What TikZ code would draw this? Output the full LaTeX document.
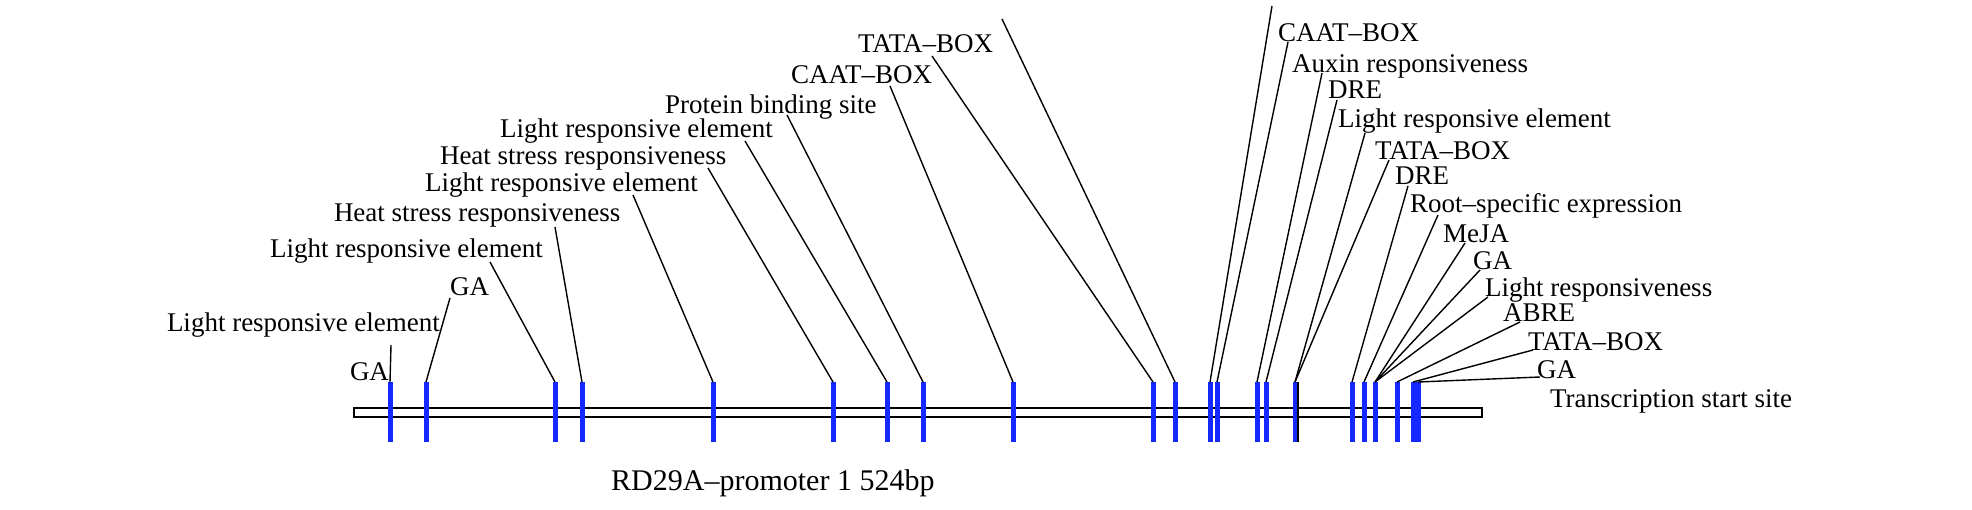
\documentclass[tikz,border=0pt]{standalone}
\usepackage{fontspec}
\setmainfont{Liberation Serif}
\definecolor{barblue}{RGB}{20,40,255}
\tikzset{
  lbl/.style={anchor=base west, inner sep=0pt, outer sep=0pt, font=\fontsize{27}{30}\selectfont},
  caption/.style={anchor=base west, inner sep=0pt, font=\fontsize{30}{33}\selectfont},
  bluebar/.style={fill=barblue, draw=none, minimum width=5pt, minimum height=60pt, inner sep=0pt, outer sep=0pt},
  conn/.style={line width=1.4pt, black},
  track/.style={draw=black, fill=white, line width=2pt},
}
\begin{document}
\begin{tikzpicture}[x=1pt, y=-1pt]
\useasboundingbox (0,0) rectangle (1972,510);
\fill[white] (0,0) rectangle (1972,510);

% promoter track
\node[track, minimum width=1128pt, minimum height=9pt, inner sep=0pt, anchor=north west] (track) at (353,407) {};

% blue element bars
\foreach \n/\x in {b1/390, b2/426, b3/555, b4/582, b5/713, b6/833, b7/887, b8/923, b9/1013,
  b10/1153, b11/1175, b12/1210, b13/1217, b14/1257, b15/1266, b16/1295,
  b17/1352, b18/1364, b19/1375, b20/1397, b21/1413, b22/1418}
  \node[bluebar] (\n) at (\x,412) {};

% labels, left group
\node[lbl] (gaA)   at (350,380) {GA};
\node[lbl] (lreA)  at (167,331) {Light responsive element};
\node[lbl] (gaB)   at (450,296) {GA};
\node[lbl] (lreB)  at (270,258) {Light responsive element};
\node[lbl] (hsrA)  at (334,222) {Heat stress responsiveness};
\node[lbl] (lreC)  at (425,192) {Light responsive element};
\node[lbl] (hsrB)  at (440,165) {Heat stress responsiveness};
\node[lbl] (lreD)  at (500,138) {Light responsive element};
\node[lbl] (pbs)   at (665,114) {Protein binding site};
\node[lbl] (caatA) at (791,84)  {CAAT–BOX};
\node[lbl] (tataA) at (858,53)  {TATA–BOX};

% labels, right group
\node[lbl] (caatB) at (1278,42)  {CAAT–BOX};
\node[lbl] (aux)   at (1292,73)  {Auxin responsiveness};
\node[lbl] (dreA)  at (1328,99)  {DRE};
\node[lbl] (lreE)  at (1338,128) {Light responsive element};
\node[lbl] (tataB) at (1375,160) {TATA–BOX};
\node[lbl] (dreB)  at (1395,185) {DRE};
\node[lbl] (root)  at (1410,213) {Root–specific expression};
\node[lbl] (meja)  at (1443,243) {MeJA};
\node[lbl] (gaC)   at (1473,270) {GA};
\node[lbl] (lresp) at (1485,297) {Light responsiveness};
\node[lbl] (abre)  at (1503,322) {ABRE};
\node[lbl] (tataC) at (1528,350) {TATA–BOX};
\node[lbl] (gaD)   at (1537,378) {GA};
\node[lbl] (tss)   at (1550,407) {Transcription start site};

\node[caption] (cap) at (611,490) {RD29A–promoter 1 524bp};

% connector end points
\coordinate (e1)  at (391,345);
\coordinate (e2)  at (450,298);
\coordinate (e3)  at (490,262);
\coordinate (e4)  at (555,227);
\coordinate (e5)  at (633,195);
\coordinate (e6)  at (708,168);
\coordinate (e7)  at (745,141);
\coordinate (e8)  at (787,115);
\coordinate (e9)  at (890,86);
\coordinate (e10) at (932,56);
\coordinate (e11) at (1002,19);
\coordinate (e12) at (1272,6);
\coordinate (e13) at (1288,42);
\coordinate (e14) at (1322,73);
\coordinate (e15) at (1337,100);
\coordinate (e16) at (1365,133);
\coordinate (e16b) at (1389,160);
\coordinate (e17) at (1408,186);
\coordinate (e18) at (1438,215);
\coordinate (e19) at (1465,243);
\coordinate (e19b) at (1480,270);
\coordinate (e19c) at (1488,297);
\coordinate (e20) at (1520,322);
\coordinate (e21) at (1533,350);
\coordinate (e22) at (1540,377);

\foreach \b/\e in {b1/e1, b2/e2, b3/e3, b4/e4, b5/e5, b6/e6, b7/e7, b8/e8, b9/e9,
  b10/e10, b11/e11, b12/e12, b13/e13, b14/e14, b15/e15, b16/e16, b16/e16b,
  b17/e17, b18/e18, b19/e19, b19/e19b, b19/e19c, b20/e20, b21/e21, b22/e22}
  \draw[conn] (\b.north) -- (\e);

% black mark beside bar b16
\draw[conn] ([xshift=3pt]b16.north) -- ([xshift=3pt]b16.south);
\end{tikzpicture}
\end{document}
